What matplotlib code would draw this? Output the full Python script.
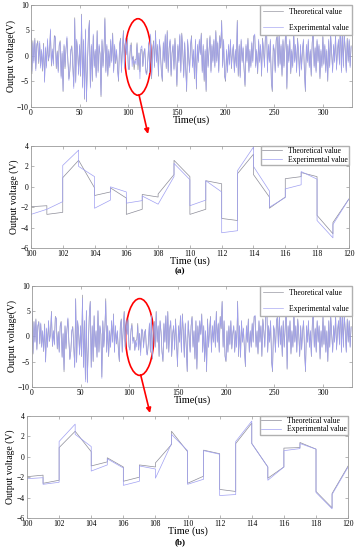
import matplotlib
matplotlib.use("Agg")
import matplotlib.pyplot as plt
from matplotlib.patches import Ellipse

plt.rcParams["font.family"] = ["Liberation Serif", "DejaVu Serif"]

# ---- full records, one value per microsecond (t = 0 .. 329) ----
theo = [
    5.5, -3.5, 3.0, -1.0, 3.5, -2.5, 2.0, 3.0, -1.5, 2.5,
    -2.0, 1.0, -3.0, 2.5, -5.0, 1.5, -2.0, 3.0, -1.0, 0.5,
    5.0, -2.0, 1.0, -1.5, 4.0, 3.5, -2.5, 1.0, -3.0, 2.0,
    3.0, -4.0, 0.5, -7.0, 2.0, -2.5, 1.5, 3.5, -1.0, -4.5,
    -3.0, 1.0, 2.0, -2.0, -6.0, 7.5, -5.0, 3.0, 1.0, -3.5,
    2.0, -4.0, 8.2, -6.0, 3.0, -8.5, 5.0, -9.0, -2.0, 4.0,
    7.0, -6.0, 2.0, -5.0, 4.0, -2.0, 1.0, -4.0, 5.0, -3.0,
    2.0, 0.5, -8.0, 3.0, -2.0, 1.0, 7.5, -3.0, 2.0, -4.0,
    1.0, -2.0, 3.0, -1.0, 4.5, -3.0, 2.0, -1.5, 1.0, -2.5,
    -5.0, 2.0, 3.5, -3.0, 1.5, 5.0, -2.0, 3.0, 0.5, 3.5,
    -1.95, -2.7, 0.9, 2.6, -0.85, -0.1, -2.7, -0.75, -0.7, 2.6,
    -2.7, 0.6, -3.1, 1.3, 1.2, -2.1, 0.8, 1.4, -2.8, -3.5,
    -1.2, 2.5, -3.0, 4.0, -4.5, 1.0, 3.0, -2.0, 5.0, -1.0,
    2.0, -4.0, 3.0, 1.0, -3.0, -5.0, 2.5, -1.0, 4.0, -2.5,
    5.0, -3.0, 1.5, 3.0, -4.0, 0.5, 2.0, -2.5, 3.5, -1.0,
    -6.0, 2.0, -1.0, 4.0, -3.0, 4.5, 1.0, -4.0, 2.5, -2.0,
    -7.0, 3.0, 0.0, -3.0, 2.0, 4.0, -2.0, 1.0, -4.5, 3.0,
    -6.5, 2.0, -1.0, 3.0, 0.5, 4.5, -3.0, 2.0, -5.0, 1.0,
    -7.0, 3.5, -2.0, 1.0, 4.0, -3.0, 2.0, -1.0, 3.0, -2.0,
    5.0, -1.0, 2.5, -3.0, 4.0, 1.5, 7.0, -2.0, 3.0, -4.0,
    -5.0, 1.0, -3.0, 2.0, -1.5, 3.0, -2.5, 0.5, 2.0, -3.0,
    1.0, -2.0, 7.0, -4.0, 2.0, -4.0, 3.0, -1.0, 1.5, -2.5,
    -6.0, 2.0, -1.0, 3.5, -3.0, 1.0, -2.0, 2.5, -1.0, 4.0,
    4.0, -2.0, 1.0, -3.5, 3.0, -1.0, 2.0, -4.0, 3.5, 1.0,
    -2.0, 5.0, 7.0, -3.0, 2.0, -1.0, 3.0, -5.0, -7.0, 2.0,
    1.0, -3.0, 3.0, 4.0, -2.0, 4.0, -1.5, 2.0, -4.0, 3.0,
    -2.0, 1.5, 7.0, -6.5, 2.0, -1.0, 3.0, -3.5, 1.0, -2.0,
    5.0, -1.0, 2.0, -3.0, 3.5, 0.5, -4.0, 2.0, -2.5, 1.0,
    3.0, -3.0, -7.0, 2.0, -1.0, 3.0, -2.0, 1.0, -4.0, 2.5,
    5.0, -2.0, 1.5, -3.0, 3.0, -1.0, 2.0, -4.5, 1.0, -2.0,
    4.0, -1.5, 2.0, -3.0, 1.0, -5.0, 3.0, -2.0, 4.0, 0.5,
    -3.0, 2.0, -1.0, 4.5, -2.5, 1.0, 3.0, -1.5, 7.0, -3.0,
    5.0, -2.0, 4.5, 1.0, -3.0, 3.5, -1.0, 3.0, -2.0, 2.0,
]

exp_a = [
    5.2, -3.0, 2.6, -1.4, 3.1, -2.9, 2.4, 2.6, -1.1, 2.9,
    -2.4, 1.3, -2.6, 2.1, -5.2, 1.8, -2.4, 3.4, -0.7, 0.2,
    5.3, -1.6, 1.4, -1.9, 3.6, 3.9, -2.1, 0.7, -3.3, 2.3,
    2.7, -4.4, 0.9, -6.8, 2.3, -2.1, 1.2, 3.8, -1.4, -4.8,
    -2.7, 1.3, 1.7, -2.3, -6.4, 7.2, -5.3, 3.3, 0.8, -3.8,
    2.3, -3.6, 8.0, -6.3, 3.3, -8.2, 5.3, -8.8, -2.3, 4.3,
    6.7, -6.3, 2.3, -4.7, 4.3, -2.3, 1.3, -4.3, 4.8, -3.3,
    2.3, 0.2, -7.7, 3.3, -2.3, 1.3, 7.2, -3.3, 2.3, -3.7,
    1.3, -2.3, 3.3, -1.3, 4.2, -3.3, 2.3, -1.2, 1.3, -2.8,
    -4.7, 2.3, 3.2, -3.3, 1.8, 4.7, -2.3, 3.3, 0.2, 3.2,
    -2.7, -2.2, 2.1, 2.0, -2.1, 0.0, -1.6, -0.9, -1.7, 2.3,
    -1.85, 0.6, -4.5, 1.6, 2.0, -2.0, -0.2, 1.5, -3.3, -3.7,
    -1.2, 2.8, -3.3, 4.3, -4.2, 1.3, 2.7, -2.3, 4.7, -1.3,
    2.3, -3.7, 3.3, 0.7, -3.3, -4.7, 2.8, -1.3, 4.3, -2.2,
    4.7, -3.3, 1.8, 3.3, -3.7, 0.8, 2.3, -2.8, 3.2, -1.3,
    -5.7, 2.3, -1.3, 4.3, -3.3, 4.2, 1.3, -4.3, 2.8, -2.3,
    -6.7, 3.3, 0.3, -3.3, 2.3, 3.7, -2.3, 1.3, -4.2, 3.3,
    -6.2, 2.3, -1.3, 3.3, 0.2, 4.2, -3.3, 2.3, -4.7, 1.3,
    -6.7, 3.2, -2.3, 1.3, 3.7, -3.3, 2.3, -1.3, 3.3, -2.3,
    4.7, -1.3, 2.8, -3.3, 3.7, 1.8, 6.7, -2.3, 3.3, -3.7,
    -4.7, 1.3, -3.3, 2.3, -1.8, 3.3, -2.2, 0.8, 2.3, -3.3,
    1.3, -2.3, 6.7, -3.7, 2.3, -4.3, 3.3, -1.3, 1.8, -2.8,
    -5.7, 2.3, -1.3, 3.2, -3.3, 1.3, -2.3, 2.8, -1.3, 3.7,
    4.3, -2.3, 1.3, -3.2, 3.3, -1.3, 2.3, -3.7, 3.2, 1.3,
    -2.3, 4.7, 6.7, -3.3, 2.3, -1.3, 3.3, -4.7, -6.7, 2.3,
    1.3, -3.3, 3.3, 3.7, -2.3, 4.3, -1.8, 2.3, -3.7, 3.3,
    -2.3, 1.8, 6.7, -6.2, 2.3, -1.3, 3.3, -3.2, 1.3, -2.3,
    4.7, -1.3, 2.3, -3.3, 3.2, 0.8, -3.7, 2.3, -2.8, 1.3,
    3.3, -3.3, -6.7, 2.3, -1.3, 3.3, -2.3, 1.3, -3.7, 2.8,
    4.7, -2.3, 1.8, -3.3, 3.3, -1.3, 2.3, -4.2, 1.3, -2.3,
    3.7, -1.8, 2.3, -3.3, 1.3, -4.7, 3.3, -2.3, 4.3, 0.8,
    -3.3, 2.3, -1.3, 4.2, -2.8, 1.3, 3.3, -1.8, 6.7, -3.3,
    4.7, -2.3, 4.2, 1.3, -3.3, 3.2, -1.3, 3.3, -2.3, 1.8,
]

exp_b = [
    5.3, -3.3, 2.8, -1.2, 3.3, -2.7, 2.2, 2.8, -1.3, 2.7,
    -2.2, 1.2, -2.8, 2.3, -5.1, 1.7, -2.2, 3.2, -0.8, 0.4,
    4.8, -1.8, 1.2, -1.7, 3.8, 3.7, -2.3, 0.8, -3.2, 2.2,
    2.8, -4.2, 0.7, -6.6, 2.2, -2.3, 1.3, 3.7, -1.2, -4.6,
    -2.8, 1.2, 1.8, -2.2, -6.2, 7.4, -5.2, 3.2, 0.9, -3.7,
    2.2, -3.8, 7.6, -6.2, 3.2, -9.0, 5.2, -9.2, -2.2, 4.2,
    6.8, -6.2, 2.2, -4.8, 4.2, -2.2, 1.2, -4.2, 5.2, -3.2,
    2.2, 0.3, -8.3, 3.2, -2.2, 1.2, 7.0, -3.2, 2.2, -3.8,
    1.2, -2.2, 3.2, -1.2, 4.3, -3.2, 2.2, -1.3, 1.2, -2.7,
    -4.8, 2.2, 3.3, -3.2, 1.7, 4.8, -2.2, 3.2, 0.3, 3.3,
    -2.15, -2.7, 1.5, 2.2, -1.4, -0.2, -2.8, -0.9, -2.1, 2.2,
    -2.7, 0.6, -3.8, 1.5, 1.3, -2.3, 0.6, 1.3, -3.5, -3.7,
    -1.0, 2.7, -3.2, 4.2, -4.3, 1.2, 2.8, -2.2, 4.8, -1.2,
    2.2, -3.8, 3.2, 0.8, -3.2, -4.8, 2.7, -1.2, 4.2, -2.3,
    4.8, -3.2, 1.7, 3.2, -3.8, 0.7, 2.2, -2.7, 3.3, -1.2,
    -5.8, 2.2, -1.2, 4.2, -3.2, 4.3, 1.2, -4.2, 2.7, -2.2,
    -6.8, 3.2, 0.2, -3.2, 2.2, 3.8, -2.2, 1.2, -4.3, 3.2,
    -6.3, 2.2, -1.2, 3.2, 0.3, 4.3, -3.2, 2.2, -4.8, 1.2,
    -6.8, 3.3, -2.2, 1.2, 3.8, -3.2, 2.2, -1.2, 3.2, -2.2,
    4.8, -1.2, 2.7, -3.2, 3.8, 1.7, 6.8, -2.2, 3.2, -3.8,
    -4.8, 1.2, -3.2, 2.2, -1.7, 3.2, -2.3, 0.7, 2.2, -3.2,
    1.2, -2.2, 6.8, -3.8, 2.2, -4.2, 3.2, -1.2, 1.7, -2.7,
    -5.8, 2.2, -1.2, 3.3, -3.2, 1.2, -2.2, 2.7, -1.2, 3.8,
    4.2, -2.2, 1.2, -3.3, 3.2, -1.2, 2.2, -3.8, 3.3, 1.2,
    -2.2, 4.8, 6.8, -3.2, 2.2, -1.2, 3.2, -4.8, -6.8, 2.2,
    1.2, -3.2, 3.2, 3.8, -2.2, 4.2, -1.7, 2.2, -3.8, 3.2,
    -2.2, 1.7, 6.8, -6.3, 2.2, -1.2, 3.2, -3.3, 1.2, -2.2,
    4.8, -1.2, 2.2, -3.2, 3.3, 0.7, -3.8, 2.2, -2.7, 1.2,
    3.2, -3.2, -6.8, 2.2, -1.2, 3.2, -2.2, 1.2, -3.8, 2.7,
    4.8, -2.2, 1.7, -3.2, 3.2, -1.2, 2.2, -4.3, 1.2, -2.2,
    3.8, -1.7, 2.2, -3.2, 1.2, -4.8, 3.2, -2.2, 4.2, 0.7,
    -3.2, 2.2, -1.2, 4.3, -2.7, 1.2, 3.2, -1.7, 6.8, -3.2,
    4.8, -2.2, 4.3, 1.2, -3.2, 3.3, -1.2, 3.2, -2.2, 1.8,
]

# ---- zoomed window 100-120 us: value at start / end of each 1 us step ----
zoom_t = list(range(100, 120))
theo_a_start = [-1.95, -2.7, 0.9, 2.6, -0.85, -0.1, -2.7, -0.75, -0.7, 2.6,
                -2.7, 0.6, -3.1, 1.3, 1.2, -2.1, 0.8, 1.4, -2.8, -3.5]
theo_a_end = [-1.85, -2.5, 2.6, -0.1, -0.5, -1.1, -2.2, -1.0, 1.2, 1.0,
              -2.2, 0.3, -3.3, 3.2, -1.0, -1.0, 1.0, 1.0, -4.6, -1.2]
exp_a_start = [-2.7, -2.2, 2.1, 2.0, -2.1, 0.0, -1.6, -0.9, -1.7, 2.3,
               -1.85, 0.6, -4.5, 1.6, 2.0, -2.0, -0.2, 1.5, -3.3, -3.7]
exp_a_end = [-2.2, -1.45, 3.6, 1.0, -1.3, -0.5, -1.35, -1.7, 1.0, 0.7,
             -1.3, -0.5, -4.3, 3.9, -0.4, -1.05, 0.2, 0.75, -5.0, -1.2]

theo_b_start = [-1.95, -2.6, 0.9, 2.5, -0.9, -0.1, -2.4, -0.8, -0.6, 2.5,
                -2.6, 0.65, -3.2, 1.3, 1.3, -2.1, 0.85, 1.4, -3.4, -3.6]
theo_b_end = [-1.8, -2.3, 2.5, 0.5, -0.5, -1.0, -2.0, -1.0, 1.2, 0.5,
              -1.9, 0.3, -3.4, 3.3, -1.0, -1.0, 0.9, 0.75, -5.0, -0.9]
exp_b_start = [-2.15, -2.7, 1.5, 2.2, -1.4, -0.2, -2.8, -0.9, -2.1, 2.2,
               -2.7, 0.6, -3.8, 1.5, 1.3, -2.3, 0.6, 1.3, -3.5, -3.7]
exp_b_end = [-2.05, -2.5, 3.2, 1.0, -0.8, -1.1, -2.4, -1.2, 1.3, 0.6,
             -2.2, 0.25, -3.7, 3.5, -1.0, -1.0, 0.8, 0.75, -5.1, -1.0]

C_THEO = "#8c8c98"
C_EXP = "#a0a0f2"
C_AX = "#9a9a9a"


def steps(t, start, end):
    xs, ys = [], []
    for k, a, b in zip(t, start, end):
        xs += [k, k + 1]
        ys += [a, b]
    return xs, ys


def style(ax):
    for s in ax.spines.values():
        s.set_color(C_AX)
        s.set_linewidth(0.6)
    ax.tick_params(direction="in", top=True, right=True, length=2,
                   width=0.5, color=C_AX, labelsize=5.5, pad=1.5)


def full_panel(rect, exp, leg_space):
    ax = fig.add_axes(rect)
    t = list(range(len(theo)))
    ax.plot(t, theo, color=C_THEO, lw=0.45, label="Theoretical value")
    ax.plot(t, exp, color=C_EXP, lw=0.45, label="Experimental value")
    ax.set_xlim(0, 330)
    ax.set_ylim(-10, 10)
    ax.set_xticks([0, 50, 100, 150, 200, 250, 300])
    ax.set_yticks([-10, -5, 0, 5, 10])
    ax.set_xlabel("Time(us)", fontsize=7.5, labelpad=-1)
    ax.set_ylabel("Output voltage(V)", fontsize=7, labelpad=1)
    style(ax)
    ax.legend(loc="upper right", fontsize=5.5, frameon=True, fancybox=False,
              edgecolor="#b0b0b0", framealpha=1, borderaxespad=0,
              handlelength=2.6, labelspacing=leg_space, borderpad=0.4)
    return ax


def zoom_panel(rect, ts, te, es, ee):
    ax = fig.add_axes(rect)
    x, y = steps(zoom_t, ts, te)
    ax.plot(x, y, color=C_THEO, lw=0.5, label="Theoretical value")
    x, y = steps(zoom_t, es, ee)
    ax.plot(x, y, color=C_EXP, lw=0.5, label="Experimental value")
    ax.set_xlim(100, 120)
    ax.set_ylim(-6, 4)
    ax.set_xticks(range(100, 121, 2))
    ax.set_yticks(range(-6, 5, 2))
    ax.set_xlabel("Time (us)", fontsize=7.5, labelpad=-1)
    ax.set_ylabel("Output voltage (V)", fontsize=7, labelpad=1)
    style(ax)
    ax.legend(loc="upper right", fontsize=5.5, frameon=True, fancybox=False,
              edgecolor="#b0b0b0", framealpha=1, borderaxespad=0,
              handlelength=2.6, labelspacing=0.05, borderpad=0.15)
    return ax


fig = plt.figure(figsize=(3.6, 5.5), dpi=100)

ax1 = full_panel([0.086, 0.8055, 0.892, 0.1855], exp_a, 1.0)
ax1.add_patch(Ellipse((110, -0.2), 27, 15, fill=False, color="red", lw=1.2))
ax1.annotate("", xy=(148 / 360, 1 - 134 / 550), xycoords="figure fraction",
             xytext=(111, -7.6), textcoords="data", annotation_clip=False,
             arrowprops=dict(arrowstyle="-|>", color="red", lw=1.2,
                             mutation_scale=7, shrinkA=0, shrinkB=0))
zoom_panel([0.086, 0.549, 0.883, 0.1855],
           theo_a_start, theo_a_end, exp_a_start, exp_a_end)
fig.text(0.5, 1 - 271 / 550, "(a)", ha="center", va="center", fontsize=6.5,
         fontweight="bold")

ax3 = full_panel([0.089, 0.2964, 0.889, 0.1836], exp_b, 1.0)
ax3.add_patch(Ellipse((111, -0.1), 29, 15.2, fill=False, color="red", lw=1.2))
ax3.annotate("", xy=(150 / 360, 1 - 413 / 550), xycoords="figure fraction",
             xytext=(112, -7.6), textcoords="data", annotation_clip=False,
             arrowprops=dict(arrowstyle="-|>", color="red", lw=1.2,
                             mutation_scale=7, shrinkA=0, shrinkB=0))
zoom_panel([0.075, 0.0582, 0.892, 0.1855],
           theo_b_start, theo_b_end, exp_b_start, exp_b_end)
fig.text(0.5, 1 - 542 / 550, "(b)", ha="center", va="center", fontsize=6.5,
         fontweight="bold")

fig.savefig("out.png", dpi=100)
